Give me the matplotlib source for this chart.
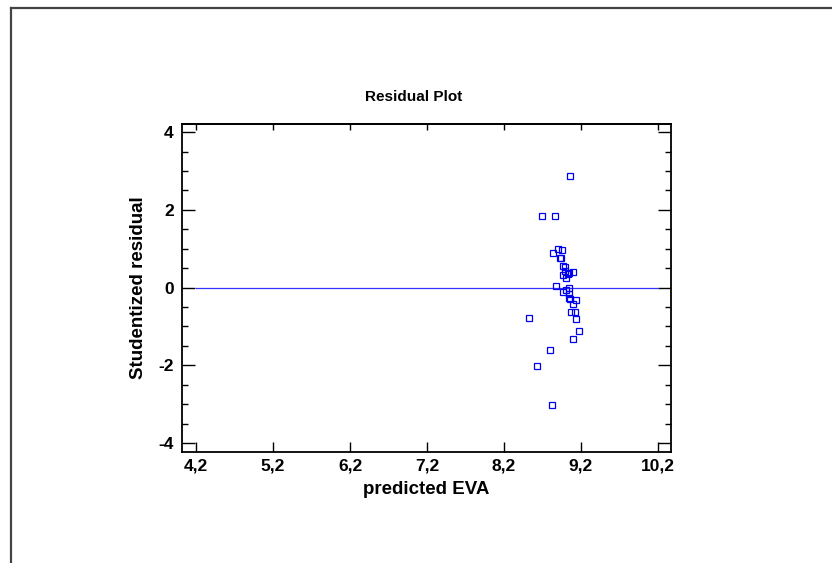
import matplotlib
matplotlib.use("Agg")
import matplotlib.pyplot as plt
from matplotlib.ticker import MultipleLocator, FuncFormatter
from matplotlib.lines import Line2D

plt.rcParams['font.family'] = ['Liberation Sans', 'DejaVu Sans']

# predicted values and studentized residuals
predicted = [9.054, 8.70, 8.867, 8.90, 8.95, 8.835, 8.93, 8.935, 8.965, 8.996,
             8.996, 8.965, 9.01, 9.03, 9.05, 9.095, 8.88, 9.04, 8.965, 9.0,
             9.045, 9.045, 9.06, 9.14, 9.10, 9.07, 9.12, 9.13, 9.175, 9.10,
             8.526, 8.80, 8.63, 8.826]
residual = [2.88, 1.84, 1.84, 1.00, 0.97, 0.89, 0.76, 0.75, 0.55, 0.52,
            0.42, 0.33, 0.25, 0.35, 0.38, 0.39, 0.03, 0.0, -0.12, -0.05,
            -0.17, -0.27, -0.29, -0.33, -0.43, -0.62, -0.62, -0.82, -1.12, -1.31,
            -0.79, -1.61, -2.01, -3.03]
zero_line_x = [4.2, 10.2]
zero_line_y = [0, 0]
x_ticks = [4.2, 5.2, 6.2, 7.2, 8.2, 9.2, 10.2]
y_ticks = [-4, -2, 0, 2, 4]

fig = plt.figure(figsize=(8.32, 5.63), dpi=100)
W, H = 832, 563
ax = fig.add_axes([182 / W, 1 - 452 / H, (671 - 182) / W, (452 - 124) / H])

ax.plot(zero_line_x, zero_line_y, color='#3333ff', lw=0.9)
ax.plot(predicted, residual, ls='none', marker='s', ms=4.4, mfc='none',
        mec='#0000ee', mew=0.9)

ax.set_xlim(4.018, 10.369)
ax.set_ylim(-4.23, 4.21)
ax.set_xticks(x_ticks)
ax.set_yticks(y_ticks)
ax.yaxis.set_minor_locator(MultipleLocator(0.5))
fmt = FuncFormatter(lambda v, p: ('%g' % round(v, 1)).replace('.', ','))
ax.xaxis.set_major_formatter(fmt)
ax.yaxis.set_major_formatter(fmt)
ax.tick_params(which='both', direction='in', top=False, right=True, width=1,
               labelsize=12.5, pad=6)
ax.tick_params(axis='y', which='major', length=9.5)
ax.tick_params(axis='y', which='minor', length=4)
ax.tick_params(axis='x', which='major', length=7, pad=5)
for lab in ax.get_xticklabels() + ax.get_yticklabels():
    lab.set_fontweight('bold')
for s in ax.spines.values():
    s.set_linewidth(1.3)

# shorter ticks along the top edge
top = ax.secondary_xaxis('top')
top.set_xticks(x_ticks)
top.tick_params(direction='in', length=4, width=1, labeltop=False)
top.spines['top'].set_linewidth(1.3)

ax.set_xlabel('predicted EVA', fontsize=13.5, fontweight='bold', labelpad=5)
ax.set_ylabel('Studentized residual', fontsize=13.5, fontweight='bold', labelpad=8)
fig.text(414 / W, 1 - 97 / H, 'Residual Plot', ha='center', va='center',
         fontsize=11, fontweight='bold')

# outer frame (left and top edges visible)
fig.add_artist(Line2D([10.5 / W, 10.5 / W], [0, 1 - 7.5 / H], color='#444444',
                      lw=1.6, transform=fig.transFigure))
fig.add_artist(Line2D([10.5 / W, 1], [1 - 7.5 / H, 1 - 7.5 / H], color='#444444',
                      lw=1.6, transform=fig.transFigure))

fig.savefig('out.png', dpi=100)
